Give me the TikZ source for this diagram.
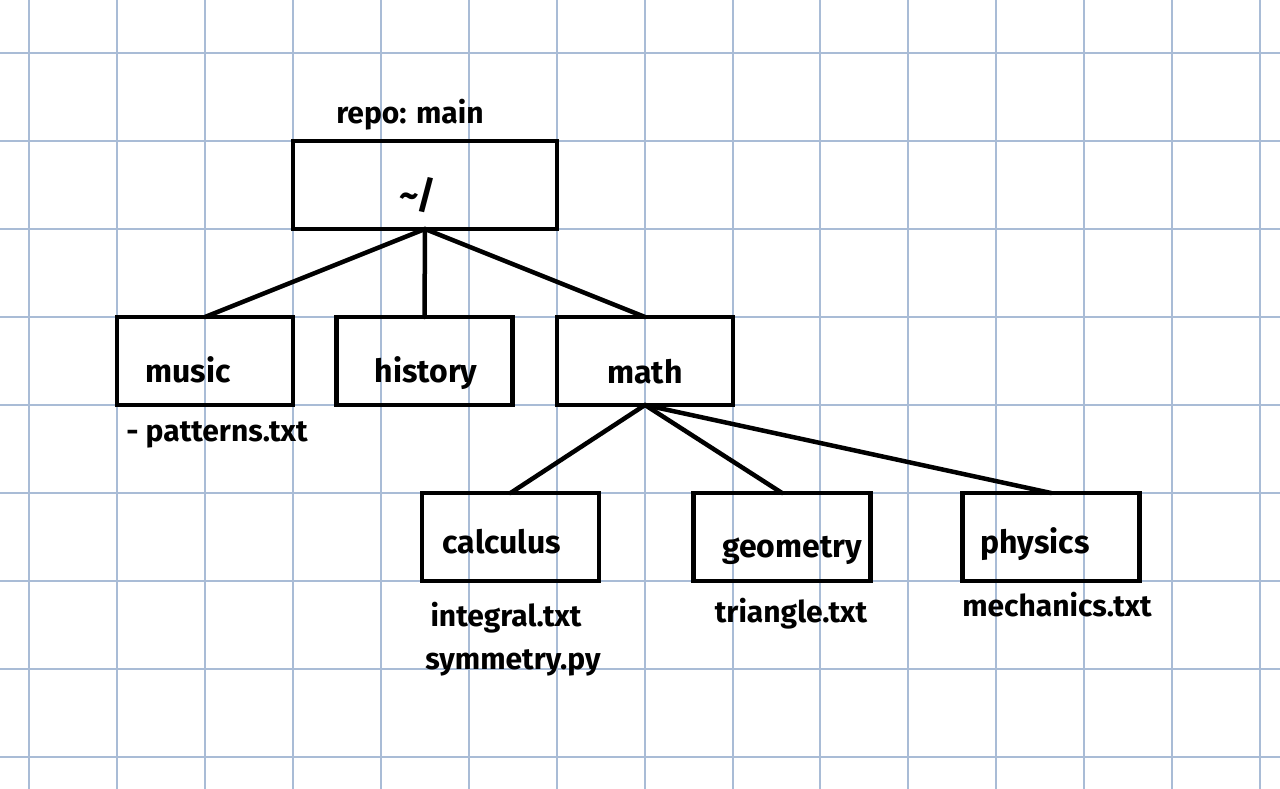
\documentclass[tikz,border=0pt]{standalone}
\usepackage{fontspec}
\setmainfont{Fira Sans}
\definecolor{gridblue}{HTML}{A9BCD6}
\tikzset{
  gridline/.style={draw=gridblue, line width=2pt},
  dirbox/.style={draw=black, line width=4.5pt, rectangle, minimum height=88pt, inner sep=0pt, outer sep=0pt},
  dirlabel/.style={anchor=base, inner sep=0pt, font=\fontsize{32}{36}\selectfont\bfseries},
  filelabel/.style={anchor=base, inner sep=0pt, font=\fontsize{30}{34}\selectfont\bfseries},
  edge/.style={draw=black, line width=4.5pt, line cap=round}
}
\begin{document}
\begin{tikzpicture}[x=1pt, y=-1pt]
\useasboundingbox (0,0) rectangle (1280,789);
\fill[white] (0,0) rectangle (1280,789);
% grid
\foreach \k in {0,...,14} {
  \draw[gridline] ({29.3+87.9*\k},0) -- ({29.3+87.9*\k},789);
}
\foreach \k in {0,...,8} {
  \draw[gridline] (0,{53.3+87.9*\k}) -- (1280,{53.3+87.9*\k});
}
% boxes
\node[dirbox, minimum width=264pt] (root) at (425,185) {};
\node[dirbox, minimum width=176pt] (music) at (205,361) {};
\node[dirbox, minimum width=176pt] (history) at (424.5,361) {};
\node[dirbox, minimum width=176pt] (math) at (645,361) {};
\node[dirbox, minimum width=177pt] (calculus) at (510.5,537) {};
\node[dirbox, minimum width=177pt] (geometry) at (782,537) {};
\node[dirbox, minimum width=177pt] (physics) at (1051,537) {};
% connectors
\draw[edge] (root.south) -- (music.north);
\draw[edge] (root.south) -- (history.north);
\draw[edge] (root.south) -- (math.north);
\draw[edge] (math.south) -- (calculus.north);
\draw[edge] (math.south) -- (geometry.north);
\draw[edge] (math.south) -- (physics.north);
% labels
\node[filelabel] (repo) at (410,124) {repo: main};
\node[dirlabel, font=\fontsize{38}{40}\selectfont\bfseries] (rootlbl) at (418,208) {\textasciitilde/};
\node[dirlabel] (musiclbl) at (188,382) {music};
\node[dirlabel] (historylbl) at (426,382) {history};
\node[dirlabel] (mathlbl) at (645,383) {math};
\node[dirlabel] (calclbl) at (502,553) {calculus};
\node[dirlabel] (geolbl) at (792,557) {geometry};
\node[dirlabel] (physlbl) at (1035,553) {physics};
\node[filelabel] (patterns) at (217,441) {- patterns.txt};
\node[filelabel] (integral) at (506,626) {integral.txt};
\node[filelabel] (symmetry) at (513,669) {symmetry.py};
\node[filelabel] (triangle) at (791,622) {triangle.txt};
\node[filelabel] (mechanics) at (1057,616) {mechanics.txt};
\end{tikzpicture}
\end{document}
